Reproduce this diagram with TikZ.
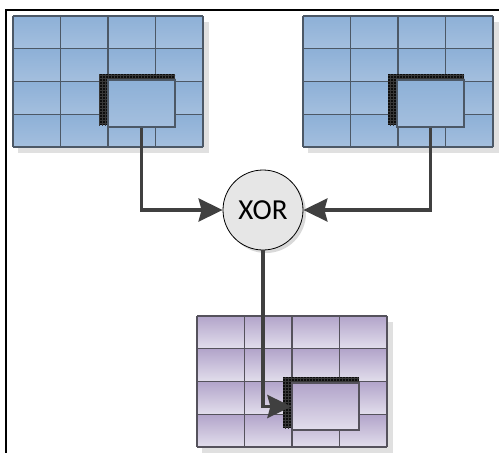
\documentclass[tikz,border=0pt]{standalone}
\usepackage{fontspec}
\newfontfamily\labelfont{Carlito}
\usetikzlibrary{arrows.meta,patterns,calc}

\definecolor{bluetop}{HTML}{8DB0D7}
\definecolor{bluebot}{HTML}{A4BFDE}
\definecolor{blueline}{HTML}{4C5866}
\definecolor{purptop}{HTML}{B2A4CA}
\definecolor{purpbot}{HTML}{E2DEEC}
\definecolor{purpline}{HTML}{55525C}
\definecolor{linkgray}{HTML}{404040}
\definecolor{xorfill}{HTML}{E6E6E6}

\tikzset{
  gridshadow/.style={fill=black!12},
  cellline/.style={line width=1.4pt},
  marker/.style={fill=black!95},
  markertex/.style={pattern=grid, pattern color=black!78},
  block/.style={draw, line width=1.2pt, minimum width=67pt, minimum height=47pt, inner sep=0pt},
  link/.style={draw=linkgray, line width=3.5pt,
    -{Stealth[length=24pt,width=23pt,inset=3pt]}},
  gate/.style={circle, draw=black, line width=0.8pt, fill=xorfill,
    minimum size=80pt, inner sep=0pt, font=\labelfont\fontsize{29}{32}\selectfont}
}

% 4x4 block of shaded cells: #1,#2 = top-left corner, #3,#4 = colours, #5 = border colour
\newcommand\cellgrid[5]{%
  \fill[gridshadow] (#1+5,#2+6) rectangle (#1+196,#2+137);
  \foreach \i in {0,...,3}{
    \foreach \j in {0,...,3}{
      \shade[top color=#3, bottom color=#4]
        (#1+\i*47.5,#2+\j*32.75) rectangle (#1+\i*47.5+47.5,#2+\j*32.75+32.75);
    }
  }
  \foreach \i in {0,...,4}{
    \draw[cellline, draw=#5] (#1+\i*47.5,#2) -- (#1+\i*47.5,#2+131);
    \draw[cellline, draw=#5] (#1,#2+\i*32.75) -- (#1+190,#2+\i*32.75);
  }
}

% selected block with its dark marker bar on the top and left edges
\newcommand\pickedblock[6]{%
  \fill[marker] (#2-9,#3-6) rectangle (#2+67,#3+45);
  \fill[markertex] (#2-9,#3-6) rectangle (#2+67,#3+45);
  \shade[top color=#4, bottom color=#5] (#2,#3) rectangle (#2+67,#3+47);
  \node[block, draw=#6] (#1) at (#2+33.5,#3+23.5) {};
}

\begin{document}
\begin{tikzpicture}[x=1pt,y=-1pt]
  \useasboundingbox (0,0) rectangle (499,453);
  \fill[white] (0,0) rectangle (499,453);

  % outer frame (top and left edges)
  \draw[line width=2.5pt, line cap=rect] (6,453) -- (6,10) -- (499,10);

  % the three cell blocks
  \cellgrid{13}{16}{bluetop}{bluebot}{blueline}
  \cellgrid{303}{16}{bluetop}{bluebot}{blueline}
  \cellgrid{197}{316}{purptop}{purpbot}{purpline}

  \pickedblock{inA}{108}{80}{bluetop}{bluebot}{blueline}
  \pickedblock{inB}{397}{80}{bluetop}{bluebot}{blueline}
  \pickedblock{out}{292}{383}{purptop}{purpbot}{purpline}

  % XOR gate with soft shadow
  \fill[black!15] (266,213) circle[radius=40pt];
  \node[gate] (xor) at (263,210) {XOR};

  % connectors
  \draw[link] (inA.south) |- (xor.west);
  \draw[link] (inB.south) |- (xor.east);
  \draw[link] (xor.south) |- (out.west);
\end{tikzpicture}
\end{document}
